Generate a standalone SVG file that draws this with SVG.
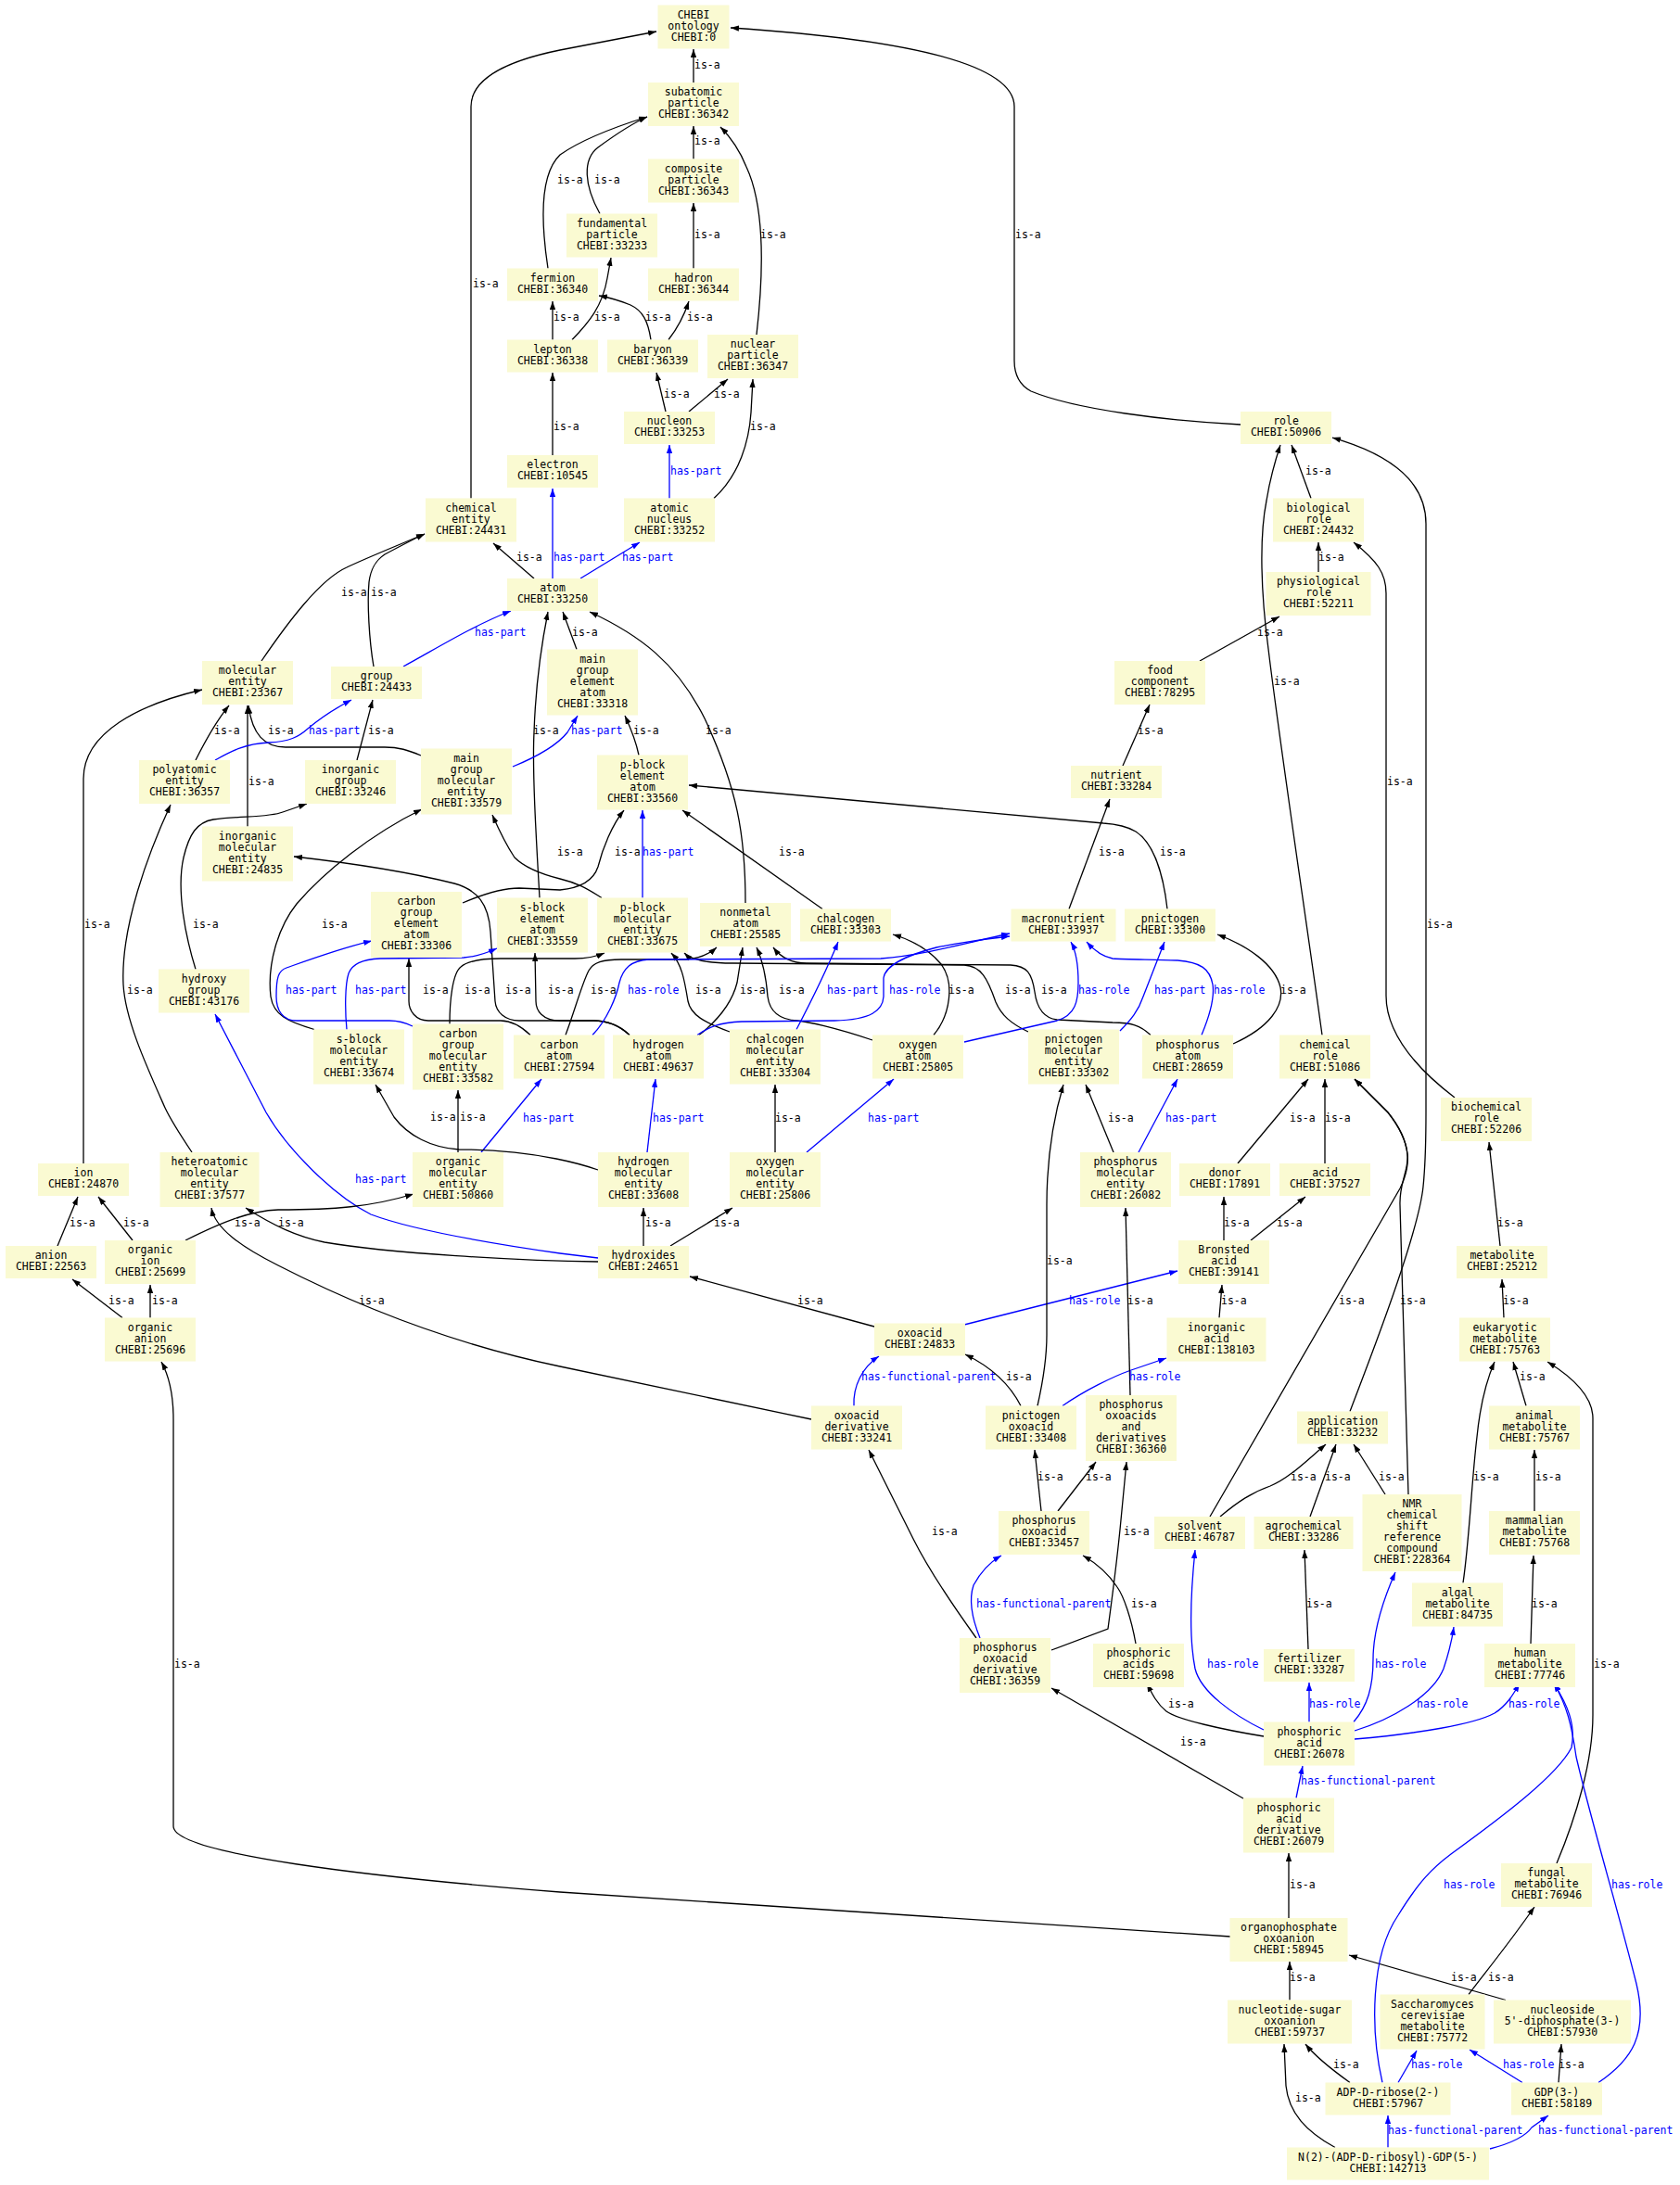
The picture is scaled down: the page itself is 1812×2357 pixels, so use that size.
<svg xmlns="http://www.w3.org/2000/svg" width="1812" height="2357" viewBox="0 0 1812 2357">
<style>
text{font-family:"DejaVu Sans Mono","Liberation Mono",monospace;font-size:11.5px}
.nd rect{fill:#fafad2}
.nd text{text-anchor:middle;fill:#000}
.e{fill:none;stroke:#000;stroke-width:1.3;marker-end:url(#ab)}
.b{fill:none;stroke:#00f;stroke-width:1.3;marker-end:url(#au)}
.l{fill:#000}
.lb{fill:#00f}
</style>
<defs>
<marker id="ab" viewBox="0 0 10 7" refX="10" refY="3.5" markerWidth="9" markerHeight="6.5" markerUnits="userSpaceOnUse" orient="auto"><path d="M0,0L10,3.5L0,7z" fill="#000"/></marker>
<marker id="au" viewBox="0 0 10 7" refX="10" refY="3.5" markerWidth="9" markerHeight="6.5" markerUnits="userSpaceOnUse" orient="auto"><path d="M0,0L10,3.5L0,7z" fill="#00f"/></marker>
</defs>
<rect width="1812" height="2357" fill="#fff"/>
<g id="edges">
<path class="e" d="M748,89 L748,53"/>
<path class="e" d="M748,171.5 L748,136"/>
<path class="e" d="M748,289.5 L748,219"/>
<path class="e" d="M591,289.5 C585,250 580,190 604,167 C625,152 660,138 698,126"/>
<path class="e" d="M647,230.5 C630,200 628,172 645,159 C660,148 680,134 698,126"/>
<path class="e" d="M617,366.5 C635,348 650,330 655,300 L659,278"/>
<path class="e" d="M596,366.5 L596,325"/>
<path class="e" d="M702,366.5 C699,346 693,335 680,329 C668,324 657,321 646,319"/>
<path class="e" d="M721,366.5 C730,355 738,340 743,325"/>
<path class="e" d="M816,361 C823,300 826,225 805,180 C797,160 788,148 777,137"/>
<path class="e" d="M718,444 L708,402"/>
<path class="e" d="M743,444 L785,409"/>
<path class="b" d="M722,537.5 L722,480"/>
<path class="e" d="M770,537.5 C798,512 808,475 810,445 L812,409"/>
<path class="e" d="M596,491 L596,402"/>
<path class="e" d="M508,537.5 L508,115 C508,85 545,66 604,54 L708,34"/>
<path class="e" d="M1338,458 C1260,454 1160,442 1112,422 C1099,415 1094,402 1094,389 L1094,115 C1094,62 940,40 788,30"/>
<path class="e" d="M1414,537.5 L1393,480"/>
<path class="e" d="M576,624 L532,586"/>
<path class="b" d="M596,624 L596,527"/>
<path class="b" d="M626,624 L690,585"/>
<path class="e" d="M1422,617 L1422,585"/>
<path class="e" d="M282,713 C310,672 345,625 374,612 C395,602 425,590 458,576"/>
<path class="e" d="M403,719 C398,690 396,650 398,628 C400,612 406,604 415,598 C430,590 445,582 458,576"/>
<path class="b" d="M435,719 C470,700 510,675 551,659"/>
<path class="e" d="M622,700.5 L607,660"/>
<path class="e" d="M804,974 C804,900 795,850 760,775 C730,715 690,685 636,660"/>
<path class="e" d="M582,968.5 C578,900 574,830 576,790 C578,730 585,690 591,660"/>
<path class="e" d="M211,820 C222,798 234,777 247,761"/>
<path class="e" d="M267,891.5 L267,761"/>
<path class="e" d="M454,815 C440,809 430,806 415,806 L308,806 C285,806 272,792 268,761"/>
<path class="b" d="M232,820 C250,810 265,802 290,801 C312,800 322,795 332,786 C345,775 360,765 379,755"/>
<path class="e" d="M385,820 L402,755"/>
<path class="b" d="M553,827 C575,818 600,805 612,790 L623,772"/>
<path class="e" d="M689,814.5 C686,800 680,785 674,772"/>
<path class="e" d="M211,1045.5 C200,1010 190,960 198,925 C204,900 212,887 230,884 C260,880 290,882 305,876 L331,867"/>
<path class="e" d="M90,1255 L90,840 C90,790 150,760 218,744"/>
<path class="e" d="M207,1243 C195,1225 185,1210 178,1195 C158,1150 135,1100 133,1062 C130,1000 160,920 184,868"/>
<path class="e" d="M679,1116.5 C668,1106 655,1101 640,1101 L560,1101 C545,1101 535,1092 534,1080 L529,1005 C527,975 515,960 490,953 C430,938 370,930 317,924"/>
<path class="e" d="M679,1116.5 C668,1106 655,1101 640,1101 L604,1101 C585,1101 578,1090 578,1080 L577,1028"/>
<path class="e" d="M572,1116.5 C560,1105 550,1101 540,1101 L462,1101 C448,1101 441,1090 441,1080 L441,1034"/>
<path class="e" d="M485,1104.5 C485,1080 488,1050 497,1043 C505,1036 520,1034 540,1034 L620,1034 C635,1034 645,1031 652,1028"/>
<path class="e" d="M610,1116.5 C620,1090 628,1060 635,1047 C640,1038 650,1035 670,1035 L740,1035 C755,1034 765,1029 773,1022"/>
<path class="e" d="M754,1116.5 C775,1100 790,1080 795,1060 L801,1022"/>
<path class="e" d="M787,1113 C760,1103 745,1095 742,1080 C738,1055 735,1040 724,1028"/>
<path class="e" d="M1109,1113 C1090,1104 1080,1095 1074,1081 C1065,1055 1058,1042 1040,1041 L790,1039 C760,1039 745,1035 738,1028"/>
<path class="e" d="M1241,1116.5 C1230,1106 1220,1103 1200,1103 L1140,1100 C1125,1098 1118,1085 1116,1070 C1113,1050 1108,1042 1090,1041 L870,1039 C850,1039 840,1030 834,1022"/>
<path class="e" d="M1007,1116.5 C1025,1095 1030,1060 1015,1040 C1000,1022 980,1013 963,1008"/>
<path class="e" d="M941,1122 C900,1108 870,1102 860,1101 C840,1100 830,1090 828,1075 C826,1050 822,1035 816,1022"/>
<path class="e" d="M1330,1126 C1370,1108 1385,1085 1381,1065 C1375,1040 1345,1020 1313,1008"/>
<path class="e" d="M339,1110.5 C310,1102 295,1095 292,1075 C288,1040 300,1000 320,975 C350,940 400,900 455,873"/>
<path class="e" d="M649,968.5 C635,960 625,953 604,948 C580,942 565,935 555,925 C545,910 538,895 531,879"/>
<path class="e" d="M499,974 C520,965 540,958 560,958 L604,960 C625,958 640,950 645,935 C650,915 660,890 673,874"/>
<path class="b" d="M693,968.5 L693,874"/>
<path class="e" d="M887,980.5 L736,874"/>
<path class="e" d="M1153,980.5 L1197,862"/>
<path class="e" d="M1259,980.5 C1255,945 1245,910 1225,897 C1215,891 1205,889 1190,888 L743,847"/>
<path class="e" d="M1211,826 L1240,760"/>
<path class="e" d="M1294,713 L1380,665"/>
<path class="e" d="M1426,1116.5 C1410,1000 1380,800 1368,700 C1360,640 1358,580 1366,540 C1370,515 1376,495 1381,480"/>
<path class="e" d="M1456,1522.5 C1480,1460 1530,1330 1535,1280 C1537,1260 1538,1240 1538,1200 L1538,565 C1538,520 1500,490 1437,472"/>
<path class="e" d="M1569,1184 C1535,1158 1495,1120 1495,1074 L1495,640 C1495,618 1485,605 1460,585"/>
<path class="e" d="M494,1243 L494,1176"/>
<path class="b" d="M519,1243 L584,1164"/>
<path class="e" d="M645,1262 C625,1255 610,1252 600,1250 C570,1244 530,1240 495,1240 C465,1238 440,1225 425,1205 L405,1170"/>
<path class="b" d="M698,1243 L707,1164"/>
<path class="e" d="M836,1243 L836,1170"/>
<path class="b" d="M870,1243 L964,1164"/>
<path class="e" d="M1201,1243 L1171,1170"/>
<path class="b" d="M1228,1243 L1270,1164"/>
<path class="e" d="M1335,1255 L1411,1164"/>
<path class="e" d="M1429,1255 L1429,1164"/>
<path class="e" d="M1519,1612 L1510,1300 C1509,1275 1520,1262 1518,1245 C1516,1225 1505,1210 1497,1200 L1461,1164"/>
<path class="e" d="M1305,1636 L1510,1282 C1517,1268 1519,1255 1518,1245 C1516,1225 1505,1210 1497,1200 L1461,1164"/>
<path class="e" d="M694,1344 L694,1303"/>
<path class="e" d="M723,1344 L790,1303"/>
<path class="b" d="M645,1357 L604,1352 C520,1340 440,1325 400,1310 C360,1290 310,1240 287,1200 L232,1094"/>
<path class="e" d="M645,1361 C560,1360 420,1352 350,1340 C320,1334 295,1322 265,1303"/>
<path class="e" d="M200,1338 C240,1318 270,1306 300,1305 C360,1305 400,1302 446,1288"/>
<path class="e" d="M143,1338 L106,1291"/>
<path class="e" d="M62,1344 L84,1291"/>
<path class="e" d="M132,1421.5 L78,1380"/>
<path class="e" d="M162,1421.5 L162,1386"/>
<path class="e" d="M875,1531 L604,1474 C480,1448 380,1406 300,1365 C260,1345 232,1325 228,1303"/>
<path class="e" d="M1327,2089 L604,2041 C400,2025 187,2000 187,1970 L187,1531 C187,1500 180,1480 174,1469"/>
<path class="e" d="M943,1431 L744,1377"/>
<path class="b" d="M1040,1429 L1270,1371"/>
<path class="b" d="M921,1516.5 C920,1495 930,1475 948,1463"/>
<path class="e" d="M1101,1516.5 C1090,1495 1070,1475 1041,1461"/>
<path class="e" d="M1119,1516.5 C1125,1490 1129,1465 1129,1440 L1129,1300 C1129,1250 1135,1210 1147,1170"/>
<path class="b" d="M1146,1516.5 C1170,1500 1200,1485 1220,1478 L1258,1465"/>
<path class="e" d="M1219,1505 L1214,1303"/>
<path class="e" d="M1320,1338 L1320,1291"/>
<path class="e" d="M1349,1338 L1408,1291"/>
<path class="e" d="M1315,1421.5 L1318,1386"/>
<path class="e" d="M1618,1344 L1606,1232"/>
<path class="e" d="M1622,1421.5 L1620,1380"/>
<path class="e" d="M1646,1516.5 L1632,1469"/>
<path class="e" d="M1655,1630 L1655,1564"/>
<path class="e" d="M1651,1773 L1654,1678"/>
<path class="e" d="M1578,1707.5 C1585,1660 1587,1600 1593,1550 C1597,1510 1605,1485 1612,1469"/>
<path class="e" d="M1679,2010 C1700,1960 1718,1900 1718,1850 L1718,1530 C1718,1505 1695,1485 1669,1469"/>
<path class="e" d="M1316,1636 C1335,1620 1350,1610 1370,1603 C1390,1595 1410,1575 1430,1558"/>
<path class="e" d="M1413,1636 L1441,1558"/>
<path class="e" d="M1494,1612 L1460,1558"/>
<path class="e" d="M1411,1779 L1407,1672"/>
<path class="e" d="M1123,1630 L1116,1564"/>
<path class="e" d="M1141,1630 L1182,1577"/>
<path class="e" d="M1053,1767 C1030,1735 1000,1690 985,1660 C965,1620 950,1590 937,1564"/>
<path class="b" d="M1057,1767 C1048,1745 1045,1725 1050,1710 C1058,1695 1068,1685 1080,1678"/>
<path class="e" d="M1134,1780 L1195,1757 C1200,1720 1205,1680 1208,1650 L1215,1577"/>
<path class="e" d="M1225,1773 C1220,1745 1212,1722 1205,1712 C1195,1697 1182,1686 1168,1678"/>
<path class="e" d="M1341,1940 L1134,1821"/>
<path class="e" d="M1363,1873 C1320,1866 1270,1855 1258,1846 C1248,1838 1243,1828 1237,1816"/>
<path class="b" d="M1363,1866 C1330,1850 1295,1825 1289,1800 C1283,1770 1283,1730 1289,1672"/>
<path class="b" d="M1412,1857.5 L1412,1815"/>
<path class="b" d="M1460,1857.5 C1475,1840 1481,1820 1481,1790 C1481,1760 1490,1730 1505,1696"/>
<path class="b" d="M1461,1867 C1500,1855 1545,1830 1557,1800 C1562,1785 1566,1770 1568,1755"/>
<path class="b" d="M1461,1876 C1530,1870 1590,1860 1612,1848 C1625,1840 1632,1828 1639,1816"/>
<path class="b" d="M1398,1939.5 L1405,1905"/>
<path class="e" d="M1390,2069 L1390,1999"/>
<path class="e" d="M1391,2157.5 L1391,2116"/>
<path class="e" d="M1624,2157.5 L1455,2109"/>
<path class="e" d="M1584,2151.5 C1600,2130 1625,2100 1655,2057"/>
<path class="e" d="M1681,2246.5 L1684,2205"/>
<path class="b" d="M1642,2246.5 L1585,2211"/>
<path class="b" d="M1724,2246.5 C1760,2222 1778,2195 1765,2140 C1745,2060 1715,1960 1700,1895 C1695,1860 1690,1840 1676,1816"/>
<path class="b" d="M1491,2246.5 C1478,2190 1478,2110 1508,2066 C1530,2030 1545,2015 1565,2000 C1620,1960 1680,1915 1695,1885 C1700,1860 1690,1838 1676,1816"/>
<path class="e" d="M1456,2246.5 C1440,2235 1420,2220 1408,2205"/>
<path class="b" d="M1508,2246.5 L1528,2212"/>
<path class="e" d="M1440,2316.5 C1410,2300 1390,2280 1387,2250 L1385,2205"/>
<path class="b" d="M1497,2316.5 L1497,2282"/>
<path class="b" d="M1607,2318 C1630,2312 1645,2305 1652,2295 L1670,2282"/>
<path class="b" d="M639,1116.5 C655,1100 665,1075 668,1060 C672,1045 680,1036 700,1035 L950,1034 C1000,1030 1050,1015 1089,1007"/>
<path class="b" d="M752,1116.5 C765,1108 775,1103 800,1102 L900,1101 C940,1100 952,1090 953,1075 L953,1055 C955,1040 980,1030 1010,1022 C1040,1016 1070,1012 1089,1010"/>
<path class="b" d="M1040,1124 L1140,1101 C1160,1095 1163,1080 1163,1060 C1163,1040 1160,1025 1155,1016"/>
<path class="b" d="M1296,1116.5 C1305,1095 1310,1075 1308,1062 C1305,1045 1295,1038 1270,1036 C1240,1035 1215,1035 1200,1034 C1190,1032 1180,1025 1172,1016"/>
<path class="b" d="M1208,1112 C1220,1100 1228,1090 1233,1075 L1256,1016"/>
<path class="b" d="M859,1110.5 C875,1080 890,1050 904,1016"/>
<path class="b" d="M374,1110.5 C372,1090 372,1062 376,1050 C380,1040 390,1035 410,1034 L500,1033 C515,1032 525,1028 536,1023"/>
<path class="b" d="M445,1107 C435,1102 428,1101 420,1101 L320,1101 C305,1101 298,1090 298,1075 C298,1055 300,1047 309,1044 C340,1033 370,1022 401,1015"/>
<g class="l">
<text x="749" y="74">is-a</text><text x="749" y="156">is-a</text><text x="749" y="257">is-a</text>
<text x="601" y="198">is-a</text><text x="641" y="198">is-a</text><text x="641" y="346">is-a</text>
<text x="597" y="346">is-a</text><text x="696" y="346">is-a</text><text x="741" y="346">is-a</text>
<text x="820" y="257">is-a</text><text x="716" y="429">is-a</text><text x="770" y="429">is-a</text>
<text x="809" y="464">is-a</text><text x="597" y="464">is-a</text><text x="510" y="310">is-a</text>
<text x="1095" y="257">is-a</text><text x="1408" y="512">is-a</text><text x="557" y="605">is-a</text>
<text x="1422" y="605">is-a</text><text x="368" y="643">is-a</text><text x="400" y="643">is-a</text>
<text x="617" y="686">is-a</text><text x="761" y="792">is-a</text><text x="575" y="792">is-a</text>
<text x="231" y="792">is-a</text><text x="268" y="847">is-a</text><text x="289" y="792">is-a</text>
<text x="397" y="792">is-a</text><text x="683" y="792">is-a</text><text x="208" y="1001">is-a</text>
<text x="91" y="1001">is-a</text><text x="137" y="1072">is-a</text><text x="545" y="1072">is-a</text>
<text x="591" y="1072">is-a</text><text x="456" y="1072">is-a</text><text x="501" y="1072">is-a</text>
<text x="637" y="1072">is-a</text><text x="798" y="1072">is-a</text><text x="750" y="1072">is-a</text>
<text x="1084" y="1072">is-a</text><text x="1123" y="1072">is-a</text><text x="1023" y="1072">is-a</text>
<text x="840" y="1072">is-a</text><text x="1381" y="1072">is-a</text><text x="347" y="1001">is-a</text>
<text x="601" y="923">is-a</text><text x="663" y="923">is-a</text><text x="840" y="923">is-a</text>
<text x="1185" y="923">is-a</text><text x="1251" y="923">is-a</text><text x="1227" y="792">is-a</text>
<text x="1356" y="686">is-a</text><text x="1374" y="739">is-a</text><text x="1539" y="1001">is-a</text>
<text x="1496" y="847">is-a</text><text x="496" y="1209">is-a</text><text x="464" y="1209">is-a</text>
<text x="836" y="1210">is-a</text><text x="1195" y="1210">is-a</text><text x="1391" y="1210">is-a</text>
<text x="1429" y="1210">is-a</text><text x="1510" y="1407">is-a</text><text x="1444" y="1407">is-a</text>
<text x="696" y="1323">is-a</text><text x="770" y="1323">is-a</text><text x="300" y="1323">is-a</text>
<text x="253" y="1323">is-a</text><text x="133" y="1323">is-a</text><text x="75" y="1323">is-a</text>
<text x="117" y="1407">is-a</text><text x="164" y="1407">is-a</text><text x="387" y="1407">is-a</text>
<text x="188" y="1799">is-a</text><text x="860" y="1407">is-a</text><text x="1085" y="1489">is-a</text>
<text x="1129" y="1364">is-a</text><text x="1216" y="1407">is-a</text><text x="1320" y="1323">is-a</text>
<text x="1377" y="1323">is-a</text><text x="1317" y="1407">is-a</text><text x="1615" y="1323">is-a</text>
<text x="1621" y="1407">is-a</text><text x="1639" y="1489">is-a</text><text x="1656" y="1597">is-a</text>
<text x="1652" y="1734">is-a</text><text x="1589" y="1597">is-a</text><text x="1719" y="1799">is-a</text>
<text x="1392" y="1597">is-a</text><text x="1429" y="1597">is-a</text><text x="1487" y="1597">is-a</text>
<text x="1409" y="1734">is-a</text><text x="1119" y="1597">is-a</text><text x="1171" y="1597">is-a</text>
<text x="1005" y="1656">is-a</text><text x="1212" y="1656">is-a</text><text x="1220" y="1734">is-a</text>
<text x="1273" y="1883">is-a</text><text x="1260" y="1842">is-a</text><text x="1391" y="2037">is-a</text>
<text x="1391" y="2137">is-a</text><text x="1565" y="2137">is-a</text><text x="1605" y="2137">is-a</text>
<text x="1681" y="2231">is-a</text><text x="1438" y="2231">is-a</text><text x="1397" y="2267">is-a</text>
</g>
<g class="lb">
<text x="723" y="512">has-part</text><text x="597" y="605">has-part</text><text x="671" y="605">has-part</text>
<text x="512" y="686">has-part</text><text x="333" y="792">has-part</text><text x="616" y="792">has-part</text>
<text x="693" y="923">has-part</text><text x="564" y="1210">has-part</text><text x="704" y="1210">has-part</text>
<text x="936" y="1210">has-part</text><text x="1257" y="1210">has-part</text><text x="383" y="1276">has-part</text>
<text x="1245" y="1072">has-part</text><text x="892" y="1072">has-part</text><text x="383" y="1072">has-part</text>
<text x="308" y="1072">has-part</text>
<text x="1153" y="1407">has-role</text><text x="1218" y="1489">has-role</text><text x="1302" y="1799">has-role</text>
<text x="1412" y="1842">has-role</text><text x="1483" y="1799">has-role</text><text x="1528" y="1842">has-role</text>
<text x="1627" y="1842">has-role</text><text x="1738" y="2037">has-role</text><text x="1557" y="2037">has-role</text>
<text x="1621" y="2231">has-role</text><text x="1522" y="2231">has-role</text><text x="677" y="1072">has-role</text>
<text x="959" y="1072">has-role</text><text x="1163" y="1072">has-role</text><text x="1309" y="1072">has-role</text>
<text x="929" y="1489">has-functional-parent</text><text x="1053" y="1734">has-functional-parent</text>
<text x="1403" y="1925">has-functional-parent</text><text x="1497" y="2302">has-functional-parent</text>
<text x="1659" y="2302">has-functional-parent</text>
</g>
</g>
<g id="n-chebi0" class="nd"><rect x="709.5" y="5.5" width="77" height="47"/><text x="748" y="19.5"><tspan x="748">CHEBI</tspan><tspan x="748" dy="12">ontology</tspan><tspan x="748" dy="12">CHEBI:0</tspan></text></g>
<g id="n-subatomic" class="nd"><rect x="699" y="89" width="98" height="47"/><text x="748" y="103"><tspan x="748">subatomic</tspan><tspan x="748" dy="12">particle</tspan><tspan x="748" dy="12">CHEBI:36342</tspan></text></g>
<g id="n-composite" class="nd"><rect x="699" y="171.5" width="98" height="47"/><text x="748" y="185.5"><tspan x="748">composite</tspan><tspan x="748" dy="12">particle</tspan><tspan x="748" dy="12">CHEBI:36343</tspan></text></g>
<g id="n-fundamental" class="nd"><rect x="611" y="230.5" width="98" height="47"/><text x="660" y="244.5"><tspan x="660">fundamental</tspan><tspan x="660" dy="12">particle</tspan><tspan x="660" dy="12">CHEBI:33233</tspan></text></g>
<g id="n-fermion" class="nd"><rect x="547" y="289.5" width="98" height="35"/><text x="596" y="303.5"><tspan x="596">fermion</tspan><tspan x="596" dy="12">CHEBI:36340</tspan></text></g>
<g id="n-hadron" class="nd"><rect x="699" y="289.5" width="98" height="35"/><text x="748" y="303.5"><tspan x="748">hadron</tspan><tspan x="748" dy="12">CHEBI:36344</tspan></text></g>
<g id="n-lepton" class="nd"><rect x="547" y="366.5" width="98" height="35"/><text x="596" y="380.5"><tspan x="596">lepton</tspan><tspan x="596" dy="12">CHEBI:36338</tspan></text></g>
<g id="n-baryon" class="nd"><rect x="655" y="366.5" width="98" height="35"/><text x="704" y="380.5"><tspan x="704">baryon</tspan><tspan x="704" dy="12">CHEBI:36339</tspan></text></g>
<g id="n-nuclearparticle" class="nd"><rect x="763" y="361" width="98" height="47"/><text x="812" y="375"><tspan x="812">nuclear</tspan><tspan x="812" dy="12">particle</tspan><tspan x="812" dy="12">CHEBI:36347</tspan></text></g>
<g id="n-nucleon" class="nd"><rect x="673" y="444" width="98" height="35"/><text x="722" y="458"><tspan x="722">nucleon</tspan><tspan x="722" dy="12">CHEBI:33253</tspan></text></g>
<g id="n-electron" class="nd"><rect x="547" y="491" width="98" height="35"/><text x="596" y="505"><tspan x="596">electron</tspan><tspan x="596" dy="12">CHEBI:10545</tspan></text></g>
<g id="n-atomicnucleus" class="nd"><rect x="673" y="537.5" width="98" height="47"/><text x="722" y="551.5"><tspan x="722">atomic</tspan><tspan x="722" dy="12">nucleus</tspan><tspan x="722" dy="12">CHEBI:33252</tspan></text></g>
<g id="n-chementity" class="nd"><rect x="459" y="537.5" width="98" height="47"/><text x="508" y="551.5"><tspan x="508">chemical</tspan><tspan x="508" dy="12">entity</tspan><tspan x="508" dy="12">CHEBI:24431</tspan></text></g>
<g id="n-role" class="nd"><rect x="1338" y="444" width="98" height="35"/><text x="1387" y="458"><tspan x="1387">role</tspan><tspan x="1387" dy="12">CHEBI:50906</tspan></text></g>
<g id="n-biorole" class="nd"><rect x="1373" y="537.5" width="98" height="47"/><text x="1422" y="551.5"><tspan x="1422">biological</tspan><tspan x="1422" dy="12">role</tspan><tspan x="1422" dy="12">CHEBI:24432</tspan></text></g>
<g id="n-atom" class="nd"><rect x="547" y="624" width="98" height="35"/><text x="596" y="638"><tspan x="596">atom</tspan><tspan x="596" dy="12">CHEBI:33250</tspan></text></g>
<g id="n-physrole" class="nd"><rect x="1365.5" y="617" width="113" height="47"/><text x="1422" y="631"><tspan x="1422">physiological</tspan><tspan x="1422" dy="12">role</tspan><tspan x="1422" dy="12">CHEBI:52211</tspan></text></g>
<g id="n-mgea" class="nd"><rect x="590" y="700.5" width="98" height="71"/><text x="639" y="714.5"><tspan x="639">main</tspan><tspan x="639" dy="12">group</tspan><tspan x="639" dy="12">element</tspan><tspan x="639" dy="12">atom</tspan><tspan x="639" dy="12">CHEBI:33318</tspan></text></g>
<g id="n-molentity" class="nd"><rect x="218" y="713" width="98" height="47"/><text x="267" y="727"><tspan x="267">molecular</tspan><tspan x="267" dy="12">entity</tspan><tspan x="267" dy="12">CHEBI:23367</tspan></text></g>
<g id="n-group" class="nd"><rect x="357" y="719" width="98" height="35"/><text x="406" y="733"><tspan x="406">group</tspan><tspan x="406" dy="12">CHEBI:24433</tspan></text></g>
<g id="n-food" class="nd"><rect x="1202" y="713" width="98" height="47"/><text x="1251" y="727"><tspan x="1251">food</tspan><tspan x="1251" dy="12">component</tspan><tspan x="1251" dy="12">CHEBI:78295</tspan></text></g>
<g id="n-polyatomic" class="nd"><rect x="150" y="820" width="98" height="47"/><text x="199" y="834"><tspan x="199">polyatomic</tspan><tspan x="199" dy="12">entity</tspan><tspan x="199" dy="12">CHEBI:36357</tspan></text></g>
<g id="n-inorggroup" class="nd"><rect x="329" y="820" width="98" height="47"/><text x="378" y="834"><tspan x="378">inorganic</tspan><tspan x="378" dy="12">group</tspan><tspan x="378" dy="12">CHEBI:33246</tspan></text></g>
<g id="n-mgme" class="nd"><rect x="454" y="807.5" width="98" height="71"/><text x="503" y="821.5"><tspan x="503">main</tspan><tspan x="503" dy="12">group</tspan><tspan x="503" dy="12">molecular</tspan><tspan x="503" dy="12">entity</tspan><tspan x="503" dy="12">CHEBI:33579</tspan></text></g>
<g id="n-pbea" class="nd"><rect x="644" y="814.5" width="98" height="59"/><text x="693" y="828.5"><tspan x="693">p-block</tspan><tspan x="693" dy="12">element</tspan><tspan x="693" dy="12">atom</tspan><tspan x="693" dy="12">CHEBI:33560</tspan></text></g>
<g id="n-nutrient" class="nd"><rect x="1155" y="826" width="98" height="35"/><text x="1204" y="840"><tspan x="1204">nutrient</tspan><tspan x="1204" dy="12">CHEBI:33284</tspan></text></g>
<g id="n-inorgmol" class="nd"><rect x="218" y="891.5" width="98" height="59"/><text x="267" y="905.5"><tspan x="267">inorganic</tspan><tspan x="267" dy="12">molecular</tspan><tspan x="267" dy="12">entity</tspan><tspan x="267" dy="12">CHEBI:24835</tspan></text></g>
<g id="n-cgea" class="nd"><rect x="400" y="962" width="98" height="71"/><text x="449" y="976"><tspan x="449">carbon</tspan><tspan x="449" dy="12">group</tspan><tspan x="449" dy="12">element</tspan><tspan x="449" dy="12">atom</tspan><tspan x="449" dy="12">CHEBI:33306</tspan></text></g>
<g id="n-sbea" class="nd"><rect x="536" y="968.5" width="98" height="59"/><text x="585" y="982.5"><tspan x="585">s-block</tspan><tspan x="585" dy="12">element</tspan><tspan x="585" dy="12">atom</tspan><tspan x="585" dy="12">CHEBI:33559</tspan></text></g>
<g id="n-pbme" class="nd"><rect x="644" y="968.5" width="98" height="59"/><text x="693" y="982.5"><tspan x="693">p-block</tspan><tspan x="693" dy="12">molecular</tspan><tspan x="693" dy="12">entity</tspan><tspan x="693" dy="12">CHEBI:33675</tspan></text></g>
<g id="n-nonmetal" class="nd"><rect x="755" y="974" width="98" height="47"/><text x="804" y="988"><tspan x="804">nonmetal</tspan><tspan x="804" dy="12">atom</tspan><tspan x="804" dy="12">CHEBI:25585</tspan></text></g>
<g id="n-chalcogen" class="nd"><rect x="863" y="980.5" width="98" height="35"/><text x="912" y="994.5"><tspan x="912">chalcogen</tspan><tspan x="912" dy="12">CHEBI:33303</tspan></text></g>
<g id="n-macronutrient" class="nd"><rect x="1090.5" y="980.5" width="113" height="35"/><text x="1147" y="994.5"><tspan x="1147">macronutrient</tspan><tspan x="1147" dy="12">CHEBI:33937</tspan></text></g>
<g id="n-pnictogen" class="nd"><rect x="1213" y="980.5" width="98" height="35"/><text x="1262" y="994.5"><tspan x="1262">pnictogen</tspan><tspan x="1262" dy="12">CHEBI:33300</tspan></text></g>
<g id="n-hydroxygroup" class="nd"><rect x="171" y="1045.5" width="98" height="47"/><text x="220" y="1059.5"><tspan x="220">hydroxy</tspan><tspan x="220" dy="12">group</tspan><tspan x="220" dy="12">CHEBI:43176</tspan></text></g>
<g id="n-sbme" class="nd"><rect x="338" y="1110.5" width="98" height="59"/><text x="387" y="1124.5"><tspan x="387">s-block</tspan><tspan x="387" dy="12">molecular</tspan><tspan x="387" dy="12">entity</tspan><tspan x="387" dy="12">CHEBI:33674</tspan></text></g>
<g id="n-cgme" class="nd"><rect x="445" y="1104.5" width="98" height="71"/><text x="494" y="1118.5"><tspan x="494">carbon</tspan><tspan x="494" dy="12">group</tspan><tspan x="494" dy="12">molecular</tspan><tspan x="494" dy="12">entity</tspan><tspan x="494" dy="12">CHEBI:33582</tspan></text></g>
<g id="n-carbonatom" class="nd"><rect x="554" y="1116.5" width="98" height="47"/><text x="603" y="1130.5"><tspan x="603">carbon</tspan><tspan x="603" dy="12">atom</tspan><tspan x="603" dy="12">CHEBI:27594</tspan></text></g>
<g id="n-hydrogenatom" class="nd"><rect x="661" y="1116.5" width="98" height="47"/><text x="710" y="1130.5"><tspan x="710">hydrogen</tspan><tspan x="710" dy="12">atom</tspan><tspan x="710" dy="12">CHEBI:49637</tspan></text></g>
<g id="n-chalcme" class="nd"><rect x="787" y="1110.5" width="98" height="59"/><text x="836" y="1124.5"><tspan x="836">chalcogen</tspan><tspan x="836" dy="12">molecular</tspan><tspan x="836" dy="12">entity</tspan><tspan x="836" dy="12">CHEBI:33304</tspan></text></g>
<g id="n-oxygenatom" class="nd"><rect x="941" y="1116.5" width="98" height="47"/><text x="990" y="1130.5"><tspan x="990">oxygen</tspan><tspan x="990" dy="12">atom</tspan><tspan x="990" dy="12">CHEBI:25805</tspan></text></g>
<g id="n-pnictme" class="nd"><rect x="1109" y="1110.5" width="98" height="59"/><text x="1158" y="1124.5"><tspan x="1158">pnictogen</tspan><tspan x="1158" dy="12">molecular</tspan><tspan x="1158" dy="12">entity</tspan><tspan x="1158" dy="12">CHEBI:33302</tspan></text></g>
<g id="n-phosphorusatom" class="nd"><rect x="1232" y="1116.5" width="98" height="47"/><text x="1281" y="1130.5"><tspan x="1281">phosphorus</tspan><tspan x="1281" dy="12">atom</tspan><tspan x="1281" dy="12">CHEBI:28659</tspan></text></g>
<g id="n-chemrole" class="nd"><rect x="1380" y="1116.5" width="98" height="47"/><text x="1429" y="1130.5"><tspan x="1429">chemical</tspan><tspan x="1429" dy="12">role</tspan><tspan x="1429" dy="12">CHEBI:51086</tspan></text></g>
<g id="n-biochemrole" class="nd"><rect x="1554" y="1184" width="98" height="47"/><text x="1603" y="1198"><tspan x="1603">biochemical</tspan><tspan x="1603" dy="12">role</tspan><tspan x="1603" dy="12">CHEBI:52206</tspan></text></g>
<g id="n-ion" class="nd"><rect x="41" y="1255" width="98" height="35"/><text x="90" y="1269"><tspan x="90">ion</tspan><tspan x="90" dy="12">CHEBI:24870</tspan></text></g>
<g id="n-hetero" class="nd"><rect x="172.5" y="1243" width="107" height="59"/><text x="226" y="1257"><tspan x="226">heteroatomic</tspan><tspan x="226" dy="12">molecular</tspan><tspan x="226" dy="12">entity</tspan><tspan x="226" dy="12">CHEBI:37577</tspan></text></g>
<g id="n-orgmol" class="nd"><rect x="445" y="1243" width="98" height="59"/><text x="494" y="1257"><tspan x="494">organic</tspan><tspan x="494" dy="12">molecular</tspan><tspan x="494" dy="12">entity</tspan><tspan x="494" dy="12">CHEBI:50860</tspan></text></g>
<g id="n-hydmol" class="nd"><rect x="645" y="1243" width="98" height="59"/><text x="694" y="1257"><tspan x="694">hydrogen</tspan><tspan x="694" dy="12">molecular</tspan><tspan x="694" dy="12">entity</tspan><tspan x="694" dy="12">CHEBI:33608</tspan></text></g>
<g id="n-oxymol" class="nd"><rect x="787" y="1243" width="98" height="59"/><text x="836" y="1257"><tspan x="836">oxygen</tspan><tspan x="836" dy="12">molecular</tspan><tspan x="836" dy="12">entity</tspan><tspan x="836" dy="12">CHEBI:25806</tspan></text></g>
<g id="n-phosmol" class="nd"><rect x="1165" y="1243" width="98" height="59"/><text x="1214" y="1257"><tspan x="1214">phosphorus</tspan><tspan x="1214" dy="12">molecular</tspan><tspan x="1214" dy="12">entity</tspan><tspan x="1214" dy="12">CHEBI:26082</tspan></text></g>
<g id="n-donor" class="nd"><rect x="1272" y="1255" width="98" height="35"/><text x="1321" y="1269"><tspan x="1321">donor</tspan><tspan x="1321" dy="12">CHEBI:17891</tspan></text></g>
<g id="n-acid" class="nd"><rect x="1380" y="1255" width="98" height="35"/><text x="1429" y="1269"><tspan x="1429">acid</tspan><tspan x="1429" dy="12">CHEBI:37527</tspan></text></g>
<g id="n-anion" class="nd"><rect x="6" y="1344" width="98" height="35"/><text x="55" y="1358"><tspan x="55">anion</tspan><tspan x="55" dy="12">CHEBI:22563</tspan></text></g>
<g id="n-orgion" class="nd"><rect x="113" y="1338" width="98" height="47"/><text x="162" y="1352"><tspan x="162">organic</tspan><tspan x="162" dy="12">ion</tspan><tspan x="162" dy="12">CHEBI:25699</tspan></text></g>
<g id="n-hydroxides" class="nd"><rect x="645" y="1344" width="98" height="35"/><text x="694" y="1358"><tspan x="694">hydroxides</tspan><tspan x="694" dy="12">CHEBI:24651</tspan></text></g>
<g id="n-bronsted" class="nd"><rect x="1271" y="1338" width="98" height="47"/><text x="1320" y="1352"><tspan x="1320">Bronsted</tspan><tspan x="1320" dy="12">acid</tspan><tspan x="1320" dy="12">CHEBI:39141</tspan></text></g>
<g id="n-metabolite" class="nd"><rect x="1571" y="1344" width="98" height="35"/><text x="1620" y="1358"><tspan x="1620">metabolite</tspan><tspan x="1620" dy="12">CHEBI:25212</tspan></text></g>
<g id="n-organion" class="nd"><rect x="113" y="1421.5" width="98" height="47"/><text x="162" y="1435.5"><tspan x="162">organic</tspan><tspan x="162" dy="12">anion</tspan><tspan x="162" dy="12">CHEBI:25696</tspan></text></g>
<g id="n-oxoacid" class="nd"><rect x="943" y="1427.5" width="98" height="35"/><text x="992" y="1441.5"><tspan x="992">oxoacid</tspan><tspan x="992" dy="12">CHEBI:24833</tspan></text></g>
<g id="n-inorgacid" class="nd"><rect x="1258.5" y="1421.5" width="107" height="47"/><text x="1312" y="1435.5"><tspan x="1312">inorganic</tspan><tspan x="1312" dy="12">acid</tspan><tspan x="1312" dy="12">CHEBI:138103</tspan></text></g>
<g id="n-eukmet" class="nd"><rect x="1574" y="1421.5" width="98" height="47"/><text x="1623" y="1435.5"><tspan x="1623">eukaryotic</tspan><tspan x="1623" dy="12">metabolite</tspan><tspan x="1623" dy="12">CHEBI:75763</tspan></text></g>
<g id="n-oxoderiv" class="nd"><rect x="875" y="1516.5" width="98" height="47"/><text x="924" y="1530.5"><tspan x="924">oxoacid</tspan><tspan x="924" dy="12">derivative</tspan><tspan x="924" dy="12">CHEBI:33241</tspan></text></g>
<g id="n-pnictoxo" class="nd"><rect x="1063" y="1516.5" width="98" height="47"/><text x="1112" y="1530.5"><tspan x="1112">pnictogen</tspan><tspan x="1112" dy="12">oxoacid</tspan><tspan x="1112" dy="12">CHEBI:33408</tspan></text></g>
<g id="n-phosoxoandder" class="nd"><rect x="1171" y="1505" width="98" height="71"/><text x="1220" y="1519"><tspan x="1220">phosphorus</tspan><tspan x="1220" dy="12">oxoacids</tspan><tspan x="1220" dy="12">and</tspan><tspan x="1220" dy="12">derivatives</tspan><tspan x="1220" dy="12">CHEBI:36360</tspan></text></g>
<g id="n-application" class="nd"><rect x="1399" y="1522.5" width="98" height="35"/><text x="1448" y="1536.5"><tspan x="1448">application</tspan><tspan x="1448" dy="12">CHEBI:33232</tspan></text></g>
<g id="n-animalmet" class="nd"><rect x="1606" y="1516.5" width="98" height="47"/><text x="1655" y="1530.5"><tspan x="1655">animal</tspan><tspan x="1655" dy="12">metabolite</tspan><tspan x="1655" dy="12">CHEBI:75767</tspan></text></g>
<g id="n-phosoxo" class="nd"><rect x="1077" y="1630" width="98" height="47"/><text x="1126" y="1644"><tspan x="1126">phosphorus</tspan><tspan x="1126" dy="12">oxoacid</tspan><tspan x="1126" dy="12">CHEBI:33457</tspan></text></g>
<g id="n-solvent" class="nd"><rect x="1245" y="1636" width="98" height="35"/><text x="1294" y="1650"><tspan x="1294">solvent</tspan><tspan x="1294" dy="12">CHEBI:46787</tspan></text></g>
<g id="n-agrochem" class="nd"><rect x="1352.5" y="1636" width="107" height="35"/><text x="1406" y="1650"><tspan x="1406">agrochemical</tspan><tspan x="1406" dy="12">CHEBI:33286</tspan></text></g>
<g id="n-nmr" class="nd"><rect x="1469.5" y="1612" width="107" height="83"/><text x="1523" y="1626"><tspan x="1523">NMR</tspan><tspan x="1523" dy="12">chemical</tspan><tspan x="1523" dy="12">shift</tspan><tspan x="1523" dy="12">reference</tspan><tspan x="1523" dy="12">compound</tspan><tspan x="1523" dy="12">CHEBI:228364</tspan></text></g>
<g id="n-mammet" class="nd"><rect x="1606" y="1630" width="98" height="47"/><text x="1655" y="1644"><tspan x="1655">mammalian</tspan><tspan x="1655" dy="12">metabolite</tspan><tspan x="1655" dy="12">CHEBI:75768</tspan></text></g>
<g id="n-algalmet" class="nd"><rect x="1523" y="1707.5" width="98" height="47"/><text x="1572" y="1721.5"><tspan x="1572">algal</tspan><tspan x="1572" dy="12">metabolite</tspan><tspan x="1572" dy="12">CHEBI:84735</tspan></text></g>
<g id="n-phosoxoder" class="nd"><rect x="1035" y="1767" width="98" height="59"/><text x="1084" y="1781"><tspan x="1084">phosphorus</tspan><tspan x="1084" dy="12">oxoacid</tspan><tspan x="1084" dy="12">derivative</tspan><tspan x="1084" dy="12">CHEBI:36359</tspan></text></g>
<g id="n-phosacids" class="nd"><rect x="1179" y="1773" width="98" height="47"/><text x="1228" y="1787"><tspan x="1228">phosphoric</tspan><tspan x="1228" dy="12">acids</tspan><tspan x="1228" dy="12">CHEBI:59698</tspan></text></g>
<g id="n-fertilizer" class="nd"><rect x="1363" y="1779" width="98" height="35"/><text x="1412" y="1793"><tspan x="1412">fertilizer</tspan><tspan x="1412" dy="12">CHEBI:33287</tspan></text></g>
<g id="n-humanmet" class="nd"><rect x="1601" y="1773" width="98" height="47"/><text x="1650" y="1787"><tspan x="1650">human</tspan><tspan x="1650" dy="12">metabolite</tspan><tspan x="1650" dy="12">CHEBI:77746</tspan></text></g>
<g id="n-phosacid" class="nd"><rect x="1363" y="1857.5" width="98" height="47"/><text x="1412" y="1871.5"><tspan x="1412">phosphoric</tspan><tspan x="1412" dy="12">acid</tspan><tspan x="1412" dy="12">CHEBI:26078</tspan></text></g>
<g id="n-phosacidder" class="nd"><rect x="1341" y="1939.5" width="98" height="59"/><text x="1390" y="1953.5"><tspan x="1390">phosphoric</tspan><tspan x="1390" dy="12">acid</tspan><tspan x="1390" dy="12">derivative</tspan><tspan x="1390" dy="12">CHEBI:26079</tspan></text></g>
<g id="n-fungalmet" class="nd"><rect x="1619" y="2010" width="98" height="47"/><text x="1668" y="2024"><tspan x="1668">fungal</tspan><tspan x="1668" dy="12">metabolite</tspan><tspan x="1668" dy="12">CHEBI:76946</tspan></text></g>
<g id="n-organophos" class="nd"><rect x="1326.5" y="2069" width="127" height="47"/><text x="1390" y="2083"><tspan x="1390">organophosphate</tspan><tspan x="1390" dy="12">oxoanion</tspan><tspan x="1390" dy="12">CHEBI:58945</tspan></text></g>
<g id="n-nucsugar" class="nd"><rect x="1324" y="2157.5" width="134" height="47"/><text x="1391" y="2171.5"><tspan x="1391">nucleotide-sugar</tspan><tspan x="1391" dy="12">oxoanion</tspan><tspan x="1391" dy="12">CHEBI:59737</tspan></text></g>
<g id="n-saccharo" class="nd"><rect x="1488.5" y="2151.5" width="113" height="59"/><text x="1545" y="2165.5"><tspan x="1545">Saccharomyces</tspan><tspan x="1545" dy="12">cerevisiae</tspan><tspan x="1545" dy="12">metabolite</tspan><tspan x="1545" dy="12">CHEBI:75772</tspan></text></g>
<g id="n-nucdiphos" class="nd"><rect x="1611" y="2157.5" width="148" height="47"/><text x="1685" y="2171.5"><tspan x="1685">nucleoside</tspan><tspan x="1685" dy="12">5'-diphosphate(3-)</tspan><tspan x="1685" dy="12">CHEBI:57930</tspan></text></g>
<g id="n-adpribose" class="nd"><rect x="1429.5" y="2246.5" width="135" height="35"/><text x="1497" y="2260.5"><tspan x="1497">ADP-D-ribose(2-)</tspan><tspan x="1497" dy="12">CHEBI:57967</tspan></text></g>
<g id="n-gdp" class="nd"><rect x="1630" y="2246.5" width="98" height="35"/><text x="1679" y="2260.5"><tspan x="1679">GDP(3-)</tspan><tspan x="1679" dy="12">CHEBI:58189</tspan></text></g>
<g id="n-n2" class="nd"><rect x="1388" y="2316.5" width="218" height="35"/><text x="1497" y="2330.5"><tspan x="1497">N(2)-(ADP-D-ribosyl)-GDP(5-)</tspan><tspan x="1497" dy="12">CHEBI:142713</tspan></text></g>
</svg>
